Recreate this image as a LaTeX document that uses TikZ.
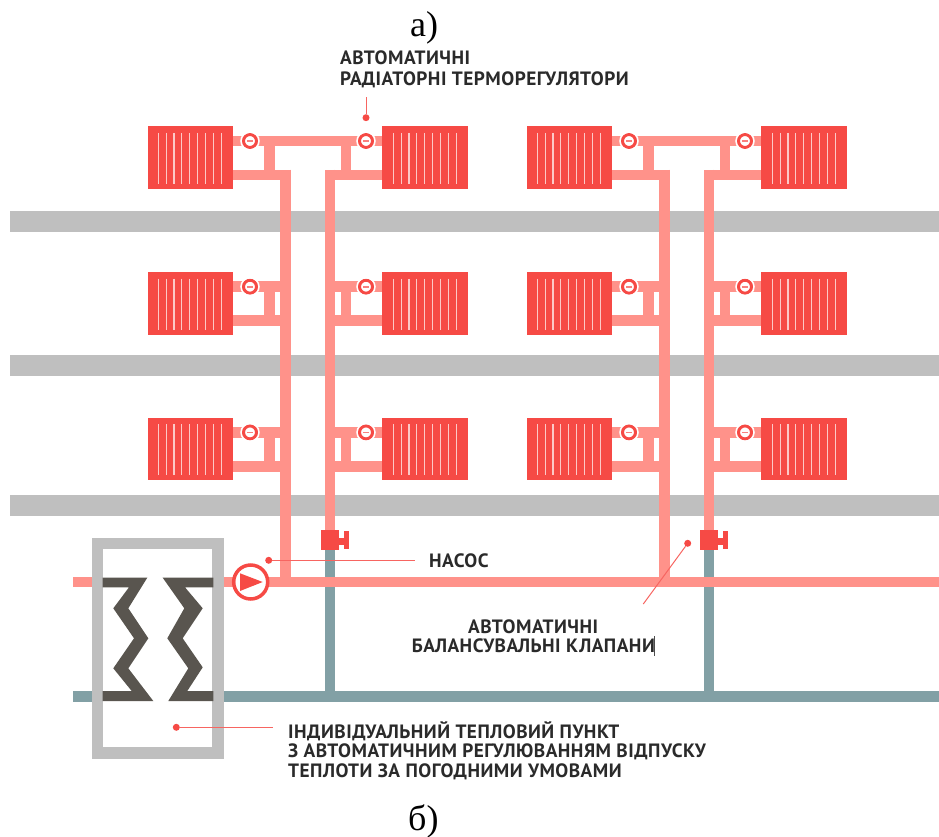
\documentclass[tikz,border=0pt]{standalone}
\usepackage{fontspec}
\setmainfont{Liberation Serif}
\newfontfamily\labelfont[LetterSpace=2.5]{PT Sans Bold}
\usetikzlibrary{calc}
\definecolor{radred}{HTML}{F64A45}
\definecolor{hotpipe}{HTML}{FF928A}
\definecolor{coldpipe}{HTML}{82A0A5}
\definecolor{wallgray}{HTML}{BFBFBF}
\definecolor{coildark}{HTML}{59554F}
\definecolor{textdark}{HTML}{2A2A2A}
\tikzset{
 wall/.style={wallgray, line width=21pt},
 hot/.style={hotpipe, line width=10.8pt},
 cold/.style={coldpipe, line width=10.8pt},
 leader/.style={radred!85!white, line width=1pt},
 dot/.style={circle, fill=radred, inner sep=0, minimum size=7pt},
 caption/.style={anchor=base west, inner sep=0, text=textdark, font=\labelfont\fontsize{19.3}{19.3}\selectfont},
 letter/.style={anchor=base west, inner sep=0, font=\fontsize{36}{36}\selectfont},
}
\begin{document}
\begin{tikzpicture}[x=1pt,y=-1pt]
\useasboundingbox (0,0) rectangle (939,837);
\foreach \y in {221.5, 365.5, 505.5} {
 \draw[wall] (10,\y) --++(929,0);
}
% risers and radiators
\foreach \gx in {0, 379} {
\begin{scope}[shift={(\gx,0)}]
 \draw[hot] (285.5,169.6) -- (285.5,582);
 \draw[hot] (330,169.6) -- (330,535);
 \draw[cold] (330,545) -- (330,696.5);
 \draw[hot] (275,141) -- (340,141);
 \foreach \ry in {0, 145.7, 291.4} {
 \begin{scope}[shift={(0,\ry)}]
  \ifdim\ry pt>0pt
   \draw[hot] (285.5,135.6) -- (285.5,175);
   \draw[hot] (330,135.6) -- (330,175);
  \fi
  \draw[hot] (233,141) -- (291,141);
  \draw[hot] (325,141) -- (382,141);
  \draw[hot] (269.5,141) -- (269.5,175);
  \draw[hot] (346,141) -- (346,175);
  \draw[hot] (233,175) -- (291,175);
  \draw[hot] (325,175) -- (382,175);
  \fill[radred] (147.5,126.5) rectangle (233,189);
  \fill[radred] (382,126.5) rectangle (467.5,189);
  \foreach \i in {0,...,8} {
   \draw[white!70!radred, line width=1.2pt] (158.3+\i*7.85,133) --++(0,51);
   \draw[white!70!radred, line width=1.2pt] (393.3+\i*7.85,133) --++(0,51);
  }
  \foreach \x in {250, 366} {
   \filldraw[draw=radred, fill=white, line width=3pt] (\x,141) circle (6.5);
   \draw[white, line width=1.5pt] (\x,141) circle (9);
   \draw[radred!70!white, line width=1.6pt] (\x-3,141) --++(6,0);
  }
 \end{scope}
 }
 % balancing valve
 \fill[radred] (320.7,530) rectangle (339.3,550);
 \fill[radred] (339,537.5) rectangle (344,545);
 \fill[radred] (343.5,531) rectangle (349,549);
\end{scope}
}
% mains
\draw[hot] (73,582) -- (939,582);
\draw[cold] (73,696.5) -- (939,696.5);
% heat exchanger
\filldraw[draw=wallgray, fill=white, line width=11.5pt] (97.5,543.5) rectangle (218,753);
\fill[coildark] (102.7,577.7) -- (147.3,577.7) -- (128.3,608.3) -- (148.3,638.3) -- (128.3,668.3) -- (153.3,701) -- (102.7,701) -- (102.7,691) -- (131.7,691) -- (113.3,668.3) -- (134,638.3) -- (113.3,608.3) -- (129,587.3) -- (102.7,587.3) -- cycle;
\fill[coildark] (213.3,577.7) -- (162.7,577.7) -- (184.3,608.3) -- (167.3,638.3) -- (188.3,668.3) -- (168.3,701) -- (213.3,701) -- (213.3,691) -- (187.3,691) -- (202.7,667.3) -- (182.7,638.3) -- (202.7,608.3) -- (185,587.3) -- (213.3,587.3) -- cycle;
% pump
\filldraw[draw=radred, fill=white, line width=3.5pt] (250.7,582) circle (17);
\fill[radred] (240,573.3) -- (262.7,582) -- (240,591) -- cycle;
% labels
\node (letterA) at (410,37) [letter] {а)};
\node (letterB) at (408,830) [letter] {б)};
\node (thermoA) at (340,65) [caption] {АВТОМАТИЧНІ};
\node (thermoB) at (340,86) [caption] {РАДІАТОРНІ ТЕРМОРЕГУЛЯТОРИ};
\node (pumpText) at (429,567) [caption] {НАСОС};
\node (balanceA) at (468,633) [caption] {АВТОМАТИЧНІ};
\node (balanceB) at (411.7,652) [caption] {БАЛАНСУВАЛЬНІ КЛАПАНИ};
\node (pointA) at (288,738) [caption] {ІНДИВІДУАЛЬНИЙ ТЕПЛОВИЙ ПУНКТ};
\node (pointB) at (288,757.7) [caption] {З АВТОМАТИЧНИМ РЕГУЛЮВАННЯМ ВІДПУСКУ};
\node (pointC) at (288,777) [caption] {ТЕПЛОТИ ЗА ПОГОДНИМИ УМОВАМИ};
% leaders
\node (thermoDot) at (366,117.7) [dot] {};
\node (pumpDot) at (268.7,560.3) [dot] {};
\node (balanceDot) at (687.7,543.3) [dot] {};
\node (pointDot) at (176.3,727.3) [dot] {};
\coordinate (thermoEnd) at (366,97.3);
\coordinate (pumpEnd) at (415,560.3);
\coordinate (balanceEnd) at (643.3,604);
\coordinate (pointEnd) at (273,727.3);
\draw[leader] (thermoDot) -- (thermoEnd);
\draw[leader] (pumpDot) -- (pumpEnd);
\draw[leader] (balanceDot) -- (balanceEnd);
\draw[leader] (pointDot) -- (pointEnd);
% cursor
\draw[black!70, line width=.8pt] (654,636) --++(0,20);
\end{tikzpicture}
\end{document}
